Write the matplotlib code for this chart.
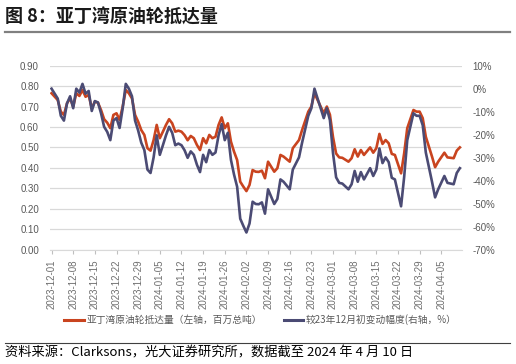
import matplotlib.pyplot as plt
import pandas as pd

# days after 2023-12-01
day_offset = [0, 2, 3, 4, 5, 6, 7, 8, 9, 10, 11, 12, 13, 14, 15, 16, 17, 18, 19, 20,
              21, 22, 23, 24, 25, 26, 27, 28, 29, 30, 31, 32, 33, 34, 35, 36, 37, 38, 39, 40,
              41, 42, 43, 44, 45, 46, 47, 48, 49, 50, 51, 52, 53, 54, 55, 56, 57, 58, 59, 60,
              61, 62, 63, 64, 65, 66, 67, 68, 69, 70, 72, 73, 74, 75, 77, 78, 80, 81, 83, 84,
              85, 87, 88, 89, 90, 91, 92, 93, 94, 96, 97, 98, 99, 100, 101, 103, 104, 105, 106, 107,
              108, 109, 110, 111, 113, 114, 115, 117, 118, 119, 120, 121, 123, 124, 125, 127, 128, 130, 131, 132]

# 亚丁湾原油轮抵达量, 百万总吨 (left axis)
arrivals = [0.765, 0.732, 0.675, 0.659, 0.716, 0.740, 0.700, 0.765, 0.752, 0.781,
            0.748, 0.757, 0.691, 0.724, 0.719, 0.683, 0.638, 0.621, 0.594, 0.659,
            0.667, 0.634, 0.700, 0.781, 0.765, 0.740, 0.659, 0.626, 0.585, 0.561,
            0.496, 0.484, 0.536, 0.610, 0.545, 0.577, 0.610, 0.638, 0.618, 0.577,
            0.582, 0.577, 0.560, 0.535, 0.556, 0.545, 0.512, 0.487, 0.545, 0.520,
            0.561, 0.545, 0.552, 0.610, 0.647, 0.594, 0.618, 0.528, 0.479, 0.438,
            0.332, 0.308, 0.286, 0.316, 0.389, 0.381, 0.380, 0.386, 0.349, 0.430,
            0.381, 0.398, 0.463, 0.455, 0.430, 0.496, 0.536, 0.585, 0.675, 0.700,
            0.765, 0.700, 0.667, 0.700, 0.660, 0.550, 0.470, 0.451, 0.449, 0.430,
            0.447, 0.491, 0.455, 0.487, 0.463, 0.500, 0.474, 0.496, 0.566, 0.517,
            0.536, 0.520, 0.468, 0.463, 0.373, 0.471, 0.594, 0.683, 0.675, 0.675,
            0.643, 0.552, 0.455, 0.403, 0.430, 0.474, 0.451, 0.447, 0.484, 0.500]

# 较23年12月初变动幅度, % (right axis)
change_pct = [0.0, -4.3, -11.8, -13.9, -6.4, -3.3, -8.5, 0.0, -1.7, 2.1,
              -2.2, -1.0, -9.7, -5.4, -6.0, -10.7, -16.6, -18.8, -22.4, -13.9,
              -12.8, -17.1, -8.5, 2.1, 0.0, -3.3, -13.9, -18.2, -23.5, -26.7,
              -35.2, -36.7, -29.9, -20.3, -28.8, -24.6, -20.3, -16.6, -19.2, -24.6,
              -23.9, -24.6, -26.8, -30.1, -27.3, -28.8, -33.1, -36.3, -28.8, -32.0,
              -26.7, -28.8, -27.8, -20.3, -15.4, -22.4, -19.2, -31.0, -37.4, -42.7,
              -56.6, -59.7, -62.6, -58.7, -49.2, -50.2, -50.3, -49.5, -54.4, -43.8,
              -50.2, -48.0, -39.5, -40.5, -43.8, -35.2, -29.9, -23.5, -11.8, -8.5,
              0.0, -8.5, -12.8, -8.5, -13.7, -28.1, -38.6, -41.0, -41.3, -43.8,
              -41.6, -35.8, -40.5, -36.3, -39.5, -34.6, -38.0, -35.2, -26.0, -32.4,
              -29.9, -32.0, -38.8, -39.5, -51.2, -38.4, -22.4, -10.7, -11.8, -11.8,
              -15.9, -27.8, -40.5, -47.3, -43.8, -38.0, -41.0, -41.6, -36.7, -34.6]

plt.rcParams['font.family'] = ['Noto Sans CJK SC', 'DejaVu Sans']

start = pd.Timestamp('2023-12-01')
dates = start + pd.to_timedelta(day_offset, unit='D')
tick_dates = pd.date_range('2023-12-01', '2024-04-05', freq='7D')

red = '#C9441F'
navy = '#4B4B74'
grey_txt = '#595959'

fig = plt.figure(figsize=(5.16, 3.64), dpi=100)
ax = fig.add_axes([50 / 516, 1 - 249.5 / 364, 411.7 / 516, 183.8 / 364])
ax2 = ax.twinx()

ax.plot(dates, arrivals, color=red, lw=1.9, zorder=2)
ax2.plot(dates, change_pct, color=navy, lw=1.9, zorder=3)

ax.set_ylim(0, 0.9)
ax.set_yticks([i / 10 for i in range(10)])
ax.set_yticklabels([f'{i / 10:.2f}' for i in range(10)])
ax2.set_ylim(-70, 10)
ax2.set_yticks(range(-70, 11, 10))
ax2.set_yticklabels([f'{v}%' for v in range(-70, 11, 10)])

ax.set_xlim(start - pd.Timedelta(hours=12), start + pd.Timedelta(days=132.6))
ax.set_xticks(tick_dates)
ax.set_xticklabels([d.strftime('%Y-%m-%d') for d in tick_dates], rotation=90)

ax.grid(axis='y', color='#D9D9D9', lw=0.9)
ax.set_axisbelow(True)
for a in (ax, ax2):
    for s in a.spines.values():
        s.set_visible(False)
ax.spines['bottom'].set_visible(True)
ax.spines['bottom'].set_color('#D9D9D9')

ax.tick_params(axis='y', length=0, labelsize=7, labelcolor=grey_txt, pad=8)
ax2.tick_params(axis='y', length=0, labelsize=7, labelcolor=grey_txt, pad=8)
ax.tick_params(axis='x', length=3, color='#BFBFBF', labelsize=7, labelcolor='#6f6f6f', pad=4)
for lab in ax.get_yticklabels() + ax2.get_yticklabels() + ax.get_xticklabels():
    lab.set_family(['Liberation Sans', 'DejaVu Sans'])

h1, = ax.plot([], [], color=red, lw=2.2)
h2, = ax.plot([], [], color=navy, lw=2.2)
fig.legend([h1, h2], ['亚丁湾原油轮抵达量（左轴，百万总吨）', '较23年12月初变动幅度(右轴，%）'],
           loc='center', bbox_to_anchor=(0.505, 1 - 320 / 364), ncol=2, frameon=False,
           fontsize=7, labelcolor=grey_txt, handlelength=2.0, handletextpad=0.3,
           columnspacing=2.2)

fig.text(5 / 516, 1 - 17 / 364, '图 8：亚丁湾原油轮抵达量', fontsize=13, fontweight='bold',
         va='center', ha='left', color='#1a1a1a')
fig.add_artist(plt.Line2D([5 / 516, 510 / 516], [1 - 32 / 364] * 2, color='#808080', lw=1.6))
fig.add_artist(plt.Line2D([5 / 516, 510 / 516], [1 - 343 / 364] * 2, color='#404040', lw=0.8))
fig.text(5 / 516, 1 - 353 / 364, '资料来源：Clarksons，光大证券研究所，数据截至 2024 年 4 月 10 日',
         fontsize=9.5, va='center', ha='left', color='#000000')

fig.savefig('out.png', dpi=100)
